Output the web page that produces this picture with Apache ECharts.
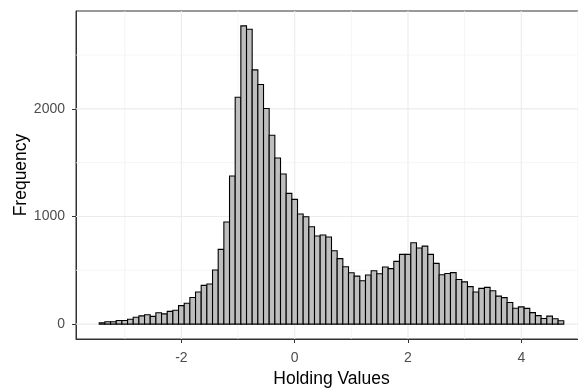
<!DOCTYPE html>
<html>
<head>
<meta charset="utf-8">
<script src="https://cdn.jsdelivr.net/npm/echarts@6/dist/echarts.min.js"></script>
<style>
html,body{margin:0;padding:0;background:#fff;}
#chart{width:578px;height:390px;}
</style>
</head>
<body>
<div id="chart"></div>
<script>
// Histogram binning (binwidth 0.1, first bin starts at -3.45)
const binStart = -3.45;
const binWidth = 0.1;
// Frequency of each bin, left to right
const counts = [
  12, 22, 22, 33, 33, 45, 64, 76, 87, 72,
  106, 95, 118, 128, 172, 194, 247, 298, 360, 372,
  502, 694, 949, 1376, 2108, 2771, 2740, 2362, 2226, 2003,
  1755, 1544, 1395, 1215, 1159, 1023, 998, 905, 818, 828,
  810, 682, 608, 533, 477, 446, 403, 456, 496, 468,
  530, 515, 583, 648, 648, 756, 707, 725, 648, 564,
  458, 470, 478, 415, 392, 348, 298, 332, 341, 310,
  260, 246, 200, 147, 160, 146, 107, 79, 52, 74,
  50, 31
];
// Axis ticks and grid lines
const xTickLabels = [-2, 0, 2, 4];
const xMinorGrid = [-3, -1, 1, 3, 5];
const yTickLabels = [0, 1000, 2000];
const yMinorGrid = [500, 1500, 2500];
const xTitle = 'Holding Values';
const yTitle = 'Frequency';

const bins = counts.map((c, i) => [binStart + i * binWidth, binStart + (i + 1) * binWidth, c]);
const xLo = bins[0][0], xHi = bins[bins.length - 1][1];
const xPad = (xHi - xLo) * 0.05;
const yMaxData = Math.max(...counts);
const yPad = yMaxData * 0.05;

const FONT = 'Liberation Sans, Arial, sans-serif';
const chart = echarts.init(document.getElementById('chart'), null, {renderer: 'canvas'});

const xLines = xMinorGrid.map(v => [v, 0]).concat(xTickLabels.map(v => [v, 1]));
const yLines = yMinorGrid.map(v => [v, 0]).concat(yTickLabels.map(v => [v, 1]));
const lineStyleFor = major => major ? {stroke: '#EBEBEB', lineWidth: 1.1} : {stroke: '#F3F3F3', lineWidth: 0.8};

chart.setOption({
  animation: false,
  backgroundColor: '#ffffff',
  grid: {
    left: 76, top: 11, width: 511, height: 328,
    outerBoundsMode: 'none',
    containLabel: false,
    show: true, borderColor: '#333333', borderWidth: 1, backgroundColor: 'transparent'
  },
  xAxis: {
    type: 'value',
    min: xLo - xPad,
    max: xHi + xPad,
    name: xTitle,
    nameLocation: 'middle',
    nameGap: 31,
    nameMoveOverlap: false,
    nameTextStyle: {fontFamily: FONT, fontSize: 17.5, color: '#000000'},
    axisLine: {show: true, onZero: false, lineStyle: {color: '#333333', width: 1}},
    axisTick: {show: true, length: 4, customValues: xTickLabels, lineStyle: {color: '#333333', width: 1}},
    axisLabel: {show: true, customValues: xTickLabels, margin: 12, fontFamily: FONT, fontSize: 14, color: '#4D4D4D',
      formatter: v => String(v)},
    splitLine: {show: false},
    minorSplitLine: {show: false}
  },
  yAxis: {
    type: 'value',
    min: -yPad,
    max: yMaxData + yPad,
    name: yTitle,
    nameLocation: 'middle',
    nameGap: 46,
    nameMoveOverlap: false,
    nameTextStyle: {fontFamily: FONT, fontSize: 17.5, color: '#000000'},
    axisLine: {show: true, onZero: false, lineStyle: {color: '#333333', width: 1}},
    axisTick: {show: true, length: 4, customValues: yTickLabels, lineStyle: {color: '#333333', width: 1}},
    axisLabel: {show: true, customValues: yTickLabels, margin: 11, fontFamily: FONT, fontSize: 14, color: '#4D4D4D',
      formatter: v => String(v)},
    splitLine: {show: false},
    minorSplitLine: {show: false}
  },
  series: [
    {
      type: 'custom',
      z: 1,
      silent: true,
      data: xLines,
      encode: {x: 0},
      renderItem: function (params, api) {
        const cs = params.coordSys;
        const px = api.coord([api.value(0), 0])[0];
        return {type: 'line', shape: {x1: px, y1: cs.y, x2: px, y2: cs.y + cs.height},
          style: lineStyleFor(api.value(1) === 1)};
      }
    },
    {
      type: 'custom',
      z: 1,
      silent: true,
      data: yLines.map(d => [0, d[0], d[1]]),
      encode: {x: 0, y: 1},
      renderItem: function (params, api) {
        const cs = params.coordSys;
        const py = api.coord([0, api.value(1)])[1];
        return {type: 'line', shape: {x1: cs.x, y1: py, x2: cs.x + cs.width, y2: py},
          style: lineStyleFor(api.value(2) === 1)};
      }
    },
    {
      type: 'custom',
      z: 2,
      data: bins,
      encode: {x: [0, 1], y: 2},
      renderItem: function (params, api) {
        const top = api.coord([api.value(0), api.value(2)]);
        const bot = api.coord([api.value(1), 0]);
        return {
          type: 'rect',
          shape: {x: top[0], y: top[1], width: bot[0] - top[0], height: bot[1] - top[1]},
          style: {fill: '#BEBEBE', stroke: '#000000', lineWidth: 1.1}
        };
      }
    }
  ]
});
</script>
</body>
</html>
